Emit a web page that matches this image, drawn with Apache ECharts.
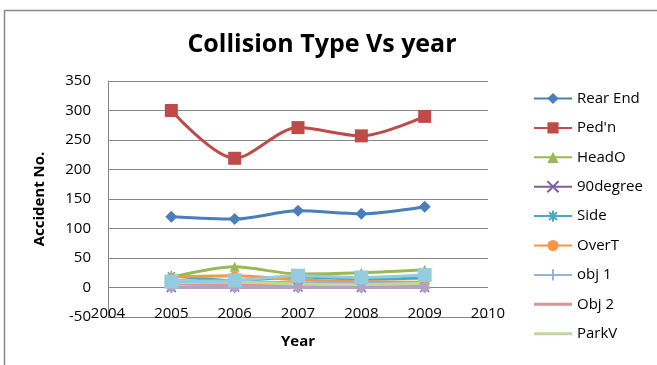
<!DOCTYPE html>
<html>
<head>
<meta charset="utf-8">
<script src="https://cdn.jsdelivr.net/npm/echarts@6/dist/echarts.min.js"></script>
<style>
  html, body { margin: 0; padding: 0; background: #fff; }
  #chart { width: 657px; height: 365px; }
</style>
</head>
<body>
<div id="chart"></div>
<script>
// Accident counts by collision type, 2005-2009
const years = [2005, 2006, 2007, 2008, 2009];

const rearEnd  = [120, 116, 130, 125, 137];
const pedn     = [300, 219, 271, 257, 290];
const headO    = [17, 35, 23, 25, 30];
const deg90    = [0, 1, 1, 0, 0];
const side     = [20, 12, 18, 14, 16];
const overT    = [18, 20, 13, 10, 9];
const obj1     = [12, 10, 8, 7, 6];
const obj2     = [6, 5, 4, 3, 3];
const parkV    = [8, 9, 6, 5, 7];
const other10  = [0, 0, 0, 0, 0];
const other11  = [10, 12, 20, 17, 21];

const yTicks = { min: -50, max: 350, step: 50 };
const xTicks = { min: 2004, max: 2010, step: 1 };

const legendNames = ["Rear End", "Ped'n", "HeadO", "90degree", "Side", "OverT", "obj 1", "Obj 2", "ParkV"];
// series drawn without markers get a plain bar as their legend key
const plainKey = new Set(["Obj 2", "ParkV"]);

const FONT = 'Open Sans';
const GRID = '#868686';

const pairs = vals => years.map((y, i) => [y, vals[i]]);

function lineSeries(name, vals, color, symbol, size, extra) {
  return Object.assign({
    name: name,
    type: 'line',
    data: pairs(vals),
    smooth: 0.3,
    symbol: symbol,
    symbolSize: size,
    showSymbol: symbol !== 'none',
    lineStyle: { color: color, width: 3 },
    itemStyle: { color: color },
    emphasis: { disabled: true },
    animation: false
  }, extra || {});
}

const xMark = 'path://M0,0L10,10M10,0L0,10';
const starMark = 'path://M5,0L5,10M0,5L10,5M1.5,1.5L8.5,8.5M8.5,1.5L1.5,8.5';
const plusMark = 'path://M5,0L5,10M0,5L10,5';
const barKey = 'path://M0,0L38,0L38,3L0,3Z';

const series = [
  lineSeries("Rear End", rearEnd, '#4A7EBB', 'diamond', 12),
  lineSeries("Ped'n", pedn, '#BE4B48', 'rect', 13),
  lineSeries("HeadO", headO, '#98B954', 'triangle', 10),
  lineSeries("90degree", deg90, '#7D60A0', xMark, 9,
    { itemStyle: { color: '#7D60A0', borderColor: '#7D60A0', borderWidth: 1.5 } }),
  lineSeries("Side", side, '#46AAC5', starMark, 10,
    { itemStyle: { color: '#46AAC5', borderColor: '#46AAC5', borderWidth: 1.5 } }),
  lineSeries("OverT", overT, '#F79646', 'circle', 9),
  lineSeries("obj 1", obj1, '#95B3D7', plusMark, 10,
    { itemStyle: { color: '#95B3D7', borderColor: '#95B3D7', borderWidth: 1.5 } }),
  lineSeries("Obj 2", obj2, '#D99694', 'none', 0),
  lineSeries("ParkV", parkV, '#C3D69B', 'none', 0),
  lineSeries("Series 10", other10, '#B3A2C7', 'diamond', 12),
  lineSeries("Series 11", other11, '#93CDDD', 'rect', 14)
];

const chart = echarts.init(document.getElementById('chart'), null, { renderer: 'canvas' });
chart.setOption({
  backgroundColor: '#ffffff',
  animation: false,
  title: {
    text: 'Collision Type Vs year',
    left: 317,
    textAlign: 'center',
    top: 27,
    textStyle: { fontFamily: FONT, fontWeight: 'bold', fontSize: 25, color: '#000' }
  },
  graphic: [{
    type: 'rect',
    shape: { x: 4.5, y: 10.5, width: 720, height: 420 },
    style: { fill: 'none', stroke: '#8a8a8a', lineWidth: 1.5 },
    silent: true
  }],
  legend: {
    data: legendNames.map(n => plainKey.has(n) ? { name: n, icon: barKey } : { name: n }),
    orient: 'vertical',
    left: 528,
    top: 86,
    itemWidth: 38,
    itemHeight: 14,
    itemGap: 14.4,
    selectedMode: false,
    textStyle: { fontFamily: FONT, fontSize: 15, color: '#000' }
  },
  grid: { left: 108, right: 169, top: 81, bottom: 48, containLabel: false },
  xAxis: {
    type: 'value',
    min: xTicks.min,
    max: xTicks.max,
    interval: xTicks.step,
    name: 'Year',
    nameLocation: 'middle',
    nameGap: 17,
    nameTextStyle: { fontFamily: FONT, fontWeight: 'bold', fontSize: 15, color: '#000', verticalAlign: 'top' },
    axisLine: { onZero: false, lineStyle: { color: GRID, width: 1 } },
    axisTick: { show: false },
    splitLine: { show: false },
    axisLabel: {
      fontFamily: FONT, fontSize: 15, color: '#000',
      margin: -3, verticalAlign: 'middle',
      formatter: v => String(v)
    }
  },
  yAxis: {
    type: 'value',
    min: yTicks.min,
    max: yTicks.max,
    interval: yTicks.step,
    name: 'Accident No.',
    nameLocation: 'middle',
    nameGap: 61,
    nameTextStyle: { fontFamily: FONT, fontWeight: 'bold', fontSize: 15, color: '#000' },
    axisLine: { show: true, lineStyle: { color: GRID, width: 1 } },
    axisTick: { show: false },
    splitLine: { show: true, lineStyle: { color: GRID, width: 1 } },
    axisLabel: { fontFamily: FONT, fontSize: 15, color: '#000', margin: 17 }
  },
  series: series
});
</script>
</body>
</html>
